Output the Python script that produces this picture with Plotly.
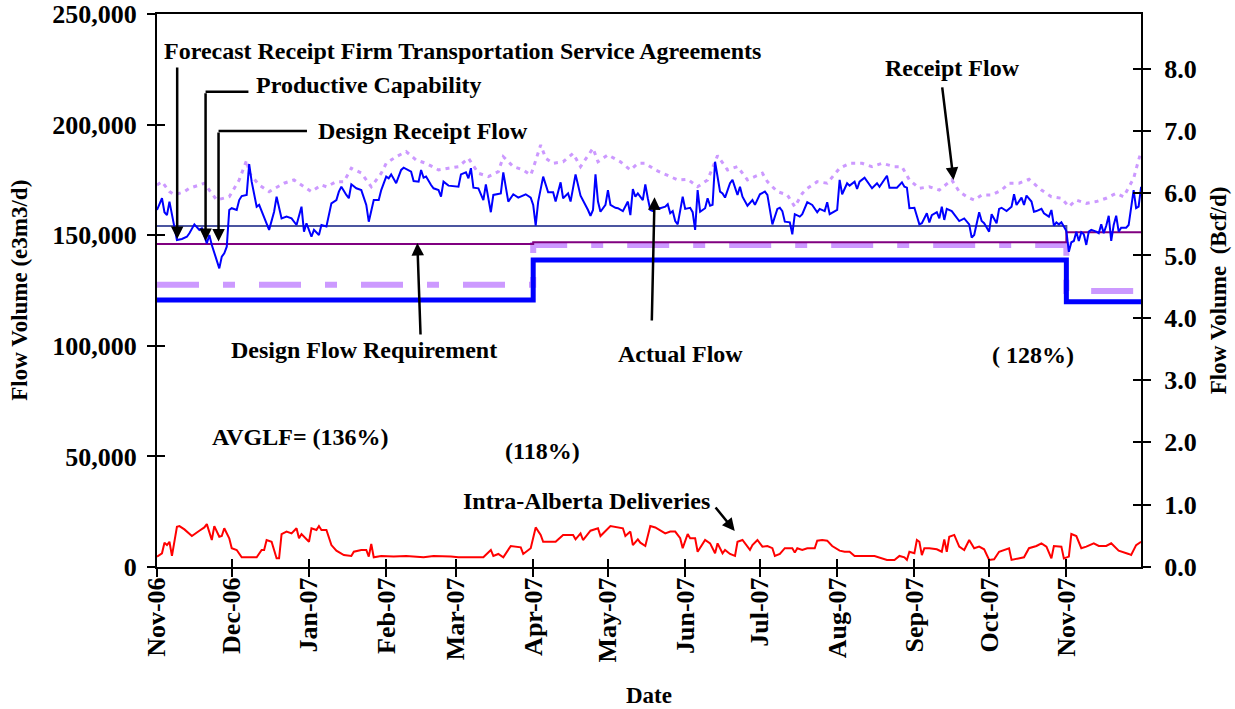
import pandas as pd
import plotly.graph_objects as go

# ----------------- data (flows in thousand e3m3/d, days after 1 Nov 2006) -----------------
START = pd.Timestamp("2006-11-01")
E3M3_PER_BCF = 28170.0

actual_day = [
    0, 2, 3, 4, 5, 6, 8, 10, 12, 13,
    15, 17, 18, 20, 21, 22, 25, 26, 27, 28,
    29, 30, 32, 33, 34, 36, 37, 38, 40, 41,
    43, 45, 47, 48, 50, 52, 54, 56, 58, 59,
    60, 62, 63, 65, 66, 68, 70, 72, 73, 74,
    76, 77, 78, 80, 82, 84, 85, 87, 89, 90,
    92, 93, 94, 96, 98, 99, 102, 103, 105, 106,
    107, 108, 110, 111, 113, 114, 115, 117, 121, 122,
    124, 125, 126, 127, 129, 131, 132, 134, 135, 136,
    138, 139, 141, 143, 145, 148, 150, 151, 152, 153,
    155, 157, 159, 160, 162, 163, 165, 166, 168, 170,
    171, 173, 174, 175, 176, 177, 178, 180, 181, 182,
    184, 185, 187, 189, 190, 191, 192, 193, 195, 196,
    197, 198, 199, 200, 202, 204, 205, 206, 207, 208,
    209, 211, 212, 214, 215, 216, 217, 218, 220, 221,
    222, 223, 224, 226, 227, 228, 230, 231, 233, 234,
    235, 237, 239, 240, 242, 244, 245, 246, 247, 249,
    250, 251, 252, 254, 255, 256, 258, 259, 261, 263,
    265, 266, 268, 269, 270, 273, 274, 275, 277, 278,
    280, 281, 282, 284, 287, 289, 290, 293, 294, 297,
    299, 300, 301, 302, 304, 306, 307, 309, 310, 311,
    313, 314, 315, 316, 317, 319, 321, 322, 324, 326,
    327, 328, 330, 331, 332, 334, 335, 337, 338, 339,
    341, 343, 344, 345, 347, 348, 349, 351, 352, 353,
    355, 356, 358, 359, 360, 361, 362, 363, 364, 365,
    366, 367, 368, 369, 370, 371, 372, 373, 374, 375,
    377, 378, 379, 380, 381, 382, 383, 384, 385, 386,
    387, 389, 390, 391, 392, 393, 394, 395,
]
actual_flow = [
    161.4, 166.7, 160.4, 159.1, 165.2, 159.1, 147.8, 148.3, 149.3, 150.9,
    154.9, 152.4, 153.1, 146.3, 150.1, 145.6, 135.0, 140.3, 141.8, 144.8,
    161.4, 162.2, 161.4, 165.9, 167.7, 168.2, 182.1, 174.2, 162.9, 163.7,
    158.4, 152.4, 160.6, 167.4, 157.6, 158.4, 157.6, 154.6, 162.9, 151.6,
    155.4, 149.3, 152.4, 150.1, 154.6, 153.9, 164.4, 165.9, 169.7, 171.9,
    168.2, 166.7, 173.0, 171.2, 170.4, 163.7, 156.1, 165.9, 165.9, 170.4,
    176.5, 175.7, 177.5, 173.5, 179.5, 180.5, 178.7, 174.5, 174.2, 179.5,
    176.0, 176.5, 172.7, 171.2, 170.4, 167.4, 174.2, 172.4, 171.9, 177.5,
    178.4, 175.7, 180.3, 171.5, 171.2, 165.9, 173.0, 160.4, 168.2, 168.5,
    168.9, 178.4, 165.2, 168.5, 167.0, 168.5, 167.0, 163.7, 154.3, 165.2,
    176.5, 169.4, 169.4, 165.2, 173.9, 166.7, 168.9, 165.2, 177.5, 167.9,
    165.9, 161.4, 158.8, 161.4, 177.5, 165.2, 160.6, 163.7, 170.4, 163.7,
    162.4, 162.2, 160.9, 165.2, 159.1, 170.9, 167.4, 168.9, 165.9, 173.0,
    166.7, 161.4, 160.9, 162.9, 162.2, 162.9, 164.0, 159.9, 160.9, 156.4,
    154.9, 167.4, 161.9, 162.4, 160.4, 152.4, 170.4, 160.6, 162.2, 166.7,
    163.3, 163.7, 183.2, 169.7, 168.9, 167.0, 173.5, 175.0, 168.2, 171.9,
    167.4, 163.3, 165.9, 163.7, 168.5, 169.7, 168.2, 160.9, 154.9, 161.9,
    162.4, 160.9, 156.1, 155.8, 150.4, 159.5, 158.4, 159.5, 164.9, 163.7,
    160.4, 161.9, 160.9, 164.9, 159.5, 161.4, 175.0, 168.5, 173.5, 172.4,
    174.2, 170.9, 174.2, 176.0, 171.2, 173.5, 171.9, 176.9, 171.5, 171.5,
    173.9, 171.9, 171.5, 162.2, 162.4, 154.9, 155.4, 159.9, 155.8, 159.1,
    160.4, 157.6, 162.9, 156.9, 161.9, 160.9, 157.6, 156.4, 157.6, 154.9,
    148.9, 150.1, 160.4, 156.4, 155.4, 151.6, 159.5, 155.4, 161.9, 162.4,
    160.9, 162.9, 168.5, 163.7, 167.0, 163.7, 167.9, 165.2, 160.6, 160.9,
    161.9, 159.9, 158.4, 161.4, 154.3, 155.8, 154.9, 155.8, 153.9, 151.9,
    142.5, 146.8, 147.4, 151.6, 147.4, 151.3, 150.4, 145.6, 151.6, 152.4,
    151.6, 150.9, 154.9, 150.9, 154.3, 158.8, 147.4, 154.6, 158.8, 151.6,
    153.4, 153.4, 154.6, 163.7, 170.4, 162.2, 162.9, 171.9,
]

receipt_day = [
    0, 2, 5, 7, 11, 13, 17, 19, 21, 24,
    29, 33, 36, 37, 41, 45, 51, 55, 59, 62,
    66, 68, 72, 75, 78, 82, 86, 90, 92, 96,
    100, 104, 108, 113, 117, 121, 125, 129, 133, 137,
    139, 143, 147, 150, 151, 154, 156, 159, 163, 167,
    170, 175, 177, 181, 186, 190, 193, 196, 200, 205,
    209, 213, 217, 221, 225, 229, 233, 237, 243, 245,
    249, 253, 256, 259, 261, 265, 269, 274, 278, 283,
    287, 291, 296, 299, 302, 306, 310, 314, 319, 322,
    325, 328, 331, 335, 339, 342, 346, 350, 355, 359,
    363, 366, 369, 373, 377, 381, 385, 388, 392, 394, 395,
]
receipt_flow = [
    172.7, 174.2, 169.7, 168.2, 169.7, 171.2, 172.7, 173.5, 170.4, 165.9,
    167.4, 175.0, 184.0, 178.1, 172.7, 169.7, 173.5, 175.0, 171.9, 169.7,
    172.7, 171.9, 174.2, 174.2, 180.3, 178.1, 171.9, 178.0, 182.5, 185.5,
    187.8, 184.0, 182.5, 179.5, 180.3, 181.0, 184.8, 178.0, 176.5, 178.7,
    185.5, 181.0, 179.5, 177.2, 180.3, 190.8, 184.8, 182.5, 183.2, 187.0,
    181.0, 189.3, 183.2, 186.3, 183.2, 179.5, 182.5, 182.5, 179.5, 177.2,
    175.0, 175.3, 171.9, 175.0, 186.0, 179.5, 181.0, 175.0, 178.0, 174.2,
    169.7, 168.2, 162.9, 168.9, 171.2, 174.2, 173.5, 180.3, 182.5, 182.5,
    181.0, 182.5, 181.0, 181.0, 175.0, 171.2, 171.9, 170.4, 175.0, 169.7,
    167.4, 165.9, 168.2, 168.2, 170.4, 173.5, 173.5, 175.3, 170.4, 167.4,
    166.7, 162.9, 165.9, 164.4, 165.2, 166.7, 168.9, 167.4, 175.7, 184.0, 187.6,
]

intra_day = [
    0, 2, 3, 4, 5, 6, 8, 9, 11, 14,
    17, 19, 20, 22, 23, 25, 26, 27, 29, 30,
    32, 34, 40, 42, 43, 44, 46, 48, 49, 50,
    52, 54, 56, 57, 58, 61, 62, 64, 65, 66,
    68, 70, 72, 74, 75, 78, 79, 82, 84, 85,
    86, 87, 90, 95, 100, 107, 111, 118, 121, 131,
    134, 135, 137, 139, 142, 146, 147, 150, 152, 154,
    155, 160, 163, 167, 168, 170, 171, 174, 177, 178,
    182, 187, 188, 190, 191, 193, 194, 196, 198, 200,
    204, 206, 208, 210, 211, 213, 214, 216, 217, 220,
    222, 224, 225, 227, 228, 230, 232, 233, 235, 238,
    239, 241, 243, 245, 247, 248, 250, 252, 255, 256,
    257, 259, 261, 264, 265, 267, 269, 271, 274, 276,
    278, 280, 286, 288, 293, 296, 298, 300, 301, 302,
    304, 305, 306, 307, 308, 310, 313, 315, 316, 317,
    318, 320, 322, 324, 326, 328, 330, 332, 334, 336,
    338, 340, 342, 343, 346, 348, 350, 353, 355, 357,
    359, 360, 363, 364, 366, 367, 369, 371, 373, 376,
    378, 381, 383, 386, 390, 391, 393, 395,
]
intra_flow = [
    4.7, 6.2, 11.0, 9.9, 11.4, 5.0, 18.2, 18.5, 17.0, 14.0,
    16.4, 17.9, 19.4, 12.2, 18.5, 13.7, 14.0, 17.5, 13.0, 8.5,
    7.7, 4.4, 4.4, 7.7, 7.7, 12.2, 11.4, 3.9, 3.9, 14.9,
    16.0, 15.2, 17.5, 13.0, 14.9, 11.4, 17.5, 16.7, 18.5, 16.7,
    16.7, 9.9, 7.4, 5.9, 5.4, 5.0, 6.9, 7.7, 7.7, 4.7,
    10.4, 4.4, 5.0, 4.7, 5.0, 4.4, 5.0, 4.7, 4.4, 4.4,
    7.7, 5.0, 5.9, 4.4, 9.5, 8.9, 5.9, 8.5, 17.9, 14.5,
    11.4, 11.4, 14.5, 14.5, 12.5, 15.2, 12.2, 16.4, 17.5, 14.0,
    18.5, 17.5, 14.0, 16.0, 9.9, 12.5, 11.0, 9.5, 18.5, 17.9,
    15.2, 16.0, 16.0, 13.0, 8.5, 14.9, 13.0, 13.0, 6.9, 12.2,
    10.7, 6.2, 10.7, 6.2, 7.7, 5.9, 5.0, 11.4, 12.2, 7.7,
    9.9, 12.2, 9.2, 9.5, 8.5, 5.0, 5.9, 8.5, 8.5, 6.5,
    8.5, 7.7, 8.5, 8.5, 11.9, 12.2, 11.9, 9.5, 7.4, 6.9,
    6.9, 5.0, 5.0, 5.0, 3.2, 3.2, 5.0, 4.4, 3.2, 6.9,
    6.2, 12.2, 11.4, 5.4, 8.5, 8.5, 8.0, 6.9, 12.5, 6.9,
    13.7, 14.5, 9.2, 7.7, 12.2, 8.5, 9.2, 8.0, 3.2, 3.5,
    6.9, 7.7, 8.5, 3.2, 3.9, 4.4, 8.5, 9.5, 10.7, 9.2,
    3.9, 9.5, 9.2, 3.9, 4.7, 14.9, 14.0, 8.5, 9.2, 10.7,
    9.5, 9.5, 10.7, 7.4, 5.9, 5.4, 9.9, 11.4,
]

# step series: value holds from each date until the next one
step_dates = ["2006-11-01", "2007-04-01", "2007-11-01", "2007-12-01"]
design_flow_req = [120.7, 138.8, 119.9, 119.9]     # thick blue
forecast_ftsa = [127.6, 145.6, 124.8, 124.8]       # lavender dashes
design_receipt = [146.0, 146.8, 151.3, 151.3]      # purple
productive_dates = ["2006-11-01", "2007-11-01"]
productive_cap = [154.2, 151.3]                    # slate

SERIF = "Liberation Serif, Times New Roman, serif"
X_END = "2007-11-30 23:00"


def day(d):
    return START + pd.to_timedelta(d, unit="D")


def k(vals):
    return [v * 1000 for v in vals]


fig = go.Figure()

# ----------------- lines -----------------
fig.add_trace(go.Scatter(x=step_dates, y=k(forecast_ftsa), mode="lines", line_shape="hv",
                         line=dict(color="#CC99FF", width=6, dash="42px,24px,12px,24px")))
fig.add_trace(go.Scatter(x=step_dates, y=k(design_flow_req), mode="lines", line_shape="hv",
                         line=dict(color="#0000FF", width=5)))
fig.add_trace(go.Scatter(x=productive_dates, y=k(productive_cap), mode="lines", line_shape="hv",
                         line=dict(color="#4B55A0", width=2)))
fig.add_trace(go.Scatter(x=step_dates, y=k(design_receipt), mode="lines", line_shape="hv",
                         line=dict(color="#800080", width=2)))
fig.add_trace(go.Scatter(x=[day(d) for d in receipt_day], y=k(receipt_flow), mode="lines",
                         line=dict(color="#CC99FF", width=3, dash="4px,5px")))
fig.add_trace(go.Scatter(x=[day(d) for d in actual_day], y=k(actual_flow), mode="lines",
                         line=dict(color="#0000FF", width=2)))
fig.add_trace(go.Scatter(x=[day(d) for d in intra_day], y=k(intra_flow), mode="lines",
                         line=dict(color="#FF0000", width=2)))

# dummy traces so the overlay axes (right scale, crossing ticks) get drawn
fig.add_trace(go.Scatter(x=[None], y=[None], yaxis="y2"))
fig.add_trace(go.Scatter(x=[None], y=[None], xaxis="x2", yaxis="y3"))
fig.add_trace(go.Scatter(x=[None], y=[None], xaxis="x2", yaxis="y4"))
fig.update_traces(showlegend=False, hoverinfo="skip")

# ----------------- labels and arrows -----------------
lab_font = dict(family=SERIF, size=24, color="black", weight="bold")
labels = [
    ("Forecast Receipt Firm Transportation Service Agreements", 2.0, 233.5),
    ("Productive Capability", 39.0, 217.8),
    ("Design Receipt Flow", 63.9, 197.0),
    ("Receipt Flow", 291.3, 225.6),
    ("Design Flow Requirement", 29.0, 98.1),
    ("Actual Flow", 184.3, 96.3),
    ("( 128%)", 334.4, 95.8),
    ("AVGLF= (136%)", 21.3, 58.8),
    ("(118%)", 138.8, 52.4),
    ("Intra-Alberta Deliveries", 121.9, 29.8),
]
for text, d, v in labels:
    fig.add_annotation(x=day(d), y=v * 1000, text=text, showarrow=False,
                       xanchor="left", yanchor="middle", font=lab_font)

# (tail day, tail value, tip day, tip value)
arrows = [
    (8.1, 226.5, 8.1, 148.3),
    (19.5, 214.9, 19.5, 147.4),
    (24.7, 197.1, 24.7, 147.1),
    (315.1, 217.5, 319.7, 175.0),
    (105.8, 104.4, 104.5, 146.5),
    (198.6, 110.8, 199.7, 167.1),
    (223.7, 27.6, 231.9, 16.3),
]
for d0, v0, d1, v1 in arrows:
    fig.add_annotation(x=day(d1), y=v1 * 1000, ax=day(d0), ay=v0 * 1000,
                       axref="x", ayref="y", text="", showarrow=True,
                       arrowhead=2, arrowsize=1, arrowwidth=2.5, arrowcolor="black")

# elbow parts of the two bent leaders
for d0, d1, v in [(19.5, 36.7, 214.9), (24.7, 60.2, 197.1)]:
    fig.add_shape(type="line", x0=day(d0), x1=day(d1), y0=v * 1000, y1=v * 1000,
                  xref="x", yref="y", line=dict(color="black", width=2.5))

title_font = dict(family=SERIF, size=23, color="black", weight="bold")
fig.add_annotation(xref="paper", yref="paper", x=-0.140, y=0.5, text="Flow Volume (e3m3/d)",
                   textangle=-90, showarrow=False, font=title_font,
                   xanchor="center", yanchor="middle")
fig.add_annotation(xref="paper", yref="paper", x=1.079, y=0.5, text="Flow Volume\u00a0 (Bcf/d)",
                   textangle=-90, showarrow=False, font=title_font,
                   xanchor="center", yanchor="middle")
fig.add_annotation(xref="paper", yref="paper", x=0.5, y=-0.2315, text="Date",
                   showarrow=False, font=title_font, xanchor="center", yanchor="middle")

# ----------------- axes -----------------
tick_font = dict(family=SERIF, size=26, color="black", weight="bold")
xr = [START, X_END]
yr = [0, 250000]
y2r = [0, 250000 / E3M3_PER_BCF]
common = dict(showgrid=False, zeroline=False, tickwidth=2, ticklen=8, tickcolor="black",
              automargin=False)

fig.update_layout(
    width=1235, height=709,
    margin=dict(l=157, r=94, t=14, b=142),
    plot_bgcolor="white", paper_bgcolor="white",
    showlegend=False,
    xaxis=dict(type="date", range=xr, dtick="M1", tick0="2006-11-01", tickformat="%b-%y",
               tickangle=-90, ticks="outside", tickfont=tick_font, showline=True,
               linewidth=2, linecolor="black", mirror=True, ticklabelstandoff=-10,
               ticklabeloverflow="allow", **common),
    xaxis2=dict(type="date", range=xr, dtick="M1", tick0="2006-11-01", overlaying="x",
                ticks="inside", showticklabels=False, showline=False, **common),
    yaxis=dict(range=yr, dtick=50000, tickformat=",", ticks="outside", tickfont=tick_font,
               showline=True, linewidth=2, linecolor="black", mirror=True,
               ticklabelstandoff=5, ticklabeloverflow="allow", **common),
    yaxis2=dict(range=y2r, dtick=1, tickformat=".1f", overlaying="y", side="right",
                ticks="outside", tickfont=tick_font, showline=True, linewidth=2,
                linecolor="black", ticklabelstandoff=8, ticklabeloverflow="allow", **common),
    yaxis3=dict(range=yr, dtick=50000, overlaying="y", ticks="inside",
                showticklabels=False, showline=False, **common),
    yaxis4=dict(range=y2r, dtick=1, overlaying="y", side="right", ticks="inside",
                showticklabels=False, showline=False, **common),
)

# the page body has a default 8px margin; drop it so the figure fills the window exactly
fig.write_html("out.html", config={"displayModeBar": False},
               post_script="document.body.style.margin = '0';")
